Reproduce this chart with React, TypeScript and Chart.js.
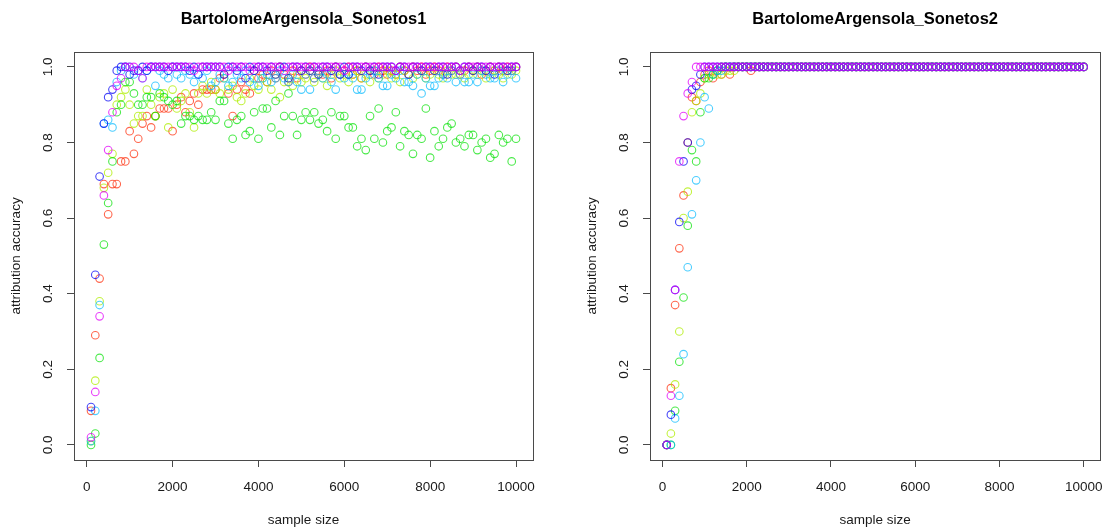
import React, { useEffect, useRef } from 'react';
import { Chart, registerables } from 'chart.js';

Chart.register(...registerables);

// ---------- data ----------
const sampleSizes = [
  100, 200, 300, 400, 500, 600, 700, 800, 900, 1000,
  1100, 1200, 1300, 1400, 1500, 1600, 1700, 1800, 1900, 2000,
  2100, 2200, 2300, 2400, 2500, 2600, 2700, 2800, 2900, 3000,
  3100, 3200, 3300, 3400, 3500, 3600, 3700, 3800, 3900, 4000,
  4100, 4200, 4300, 4400, 4500, 4600, 4700, 4800, 4900, 5000,
  5100, 5200, 5300, 5400, 5500, 5600, 5700, 5800, 5900, 6000,
  6100, 6200, 6300, 6400, 6500, 6600, 6700, 6800, 6900, 7000,
  7100, 7200, 7300, 7400, 7500, 7600, 7700, 7800, 7900, 8000,
  8100, 8200, 8300, 8400, 8500, 8600, 8700, 8800, 8900, 9000,
  9100, 9200, 9300, 9400, 9500, 9600, 9700, 9800, 9900, 10000,
];

const xTickValues = [0, 2000, 4000, 6000, 8000, 10000];
const xTickLabels = ['0', '2000', '4000', '6000', '8000', '10000'];
const yTickValues = [0, 0.2, 0.4, 0.6, 0.8, 1.0];
const yTickLabels = ['0.0', '0.2', '0.4', '0.6', '0.8', '1.0'];

const seriesColors = [
  'rgba(255,45,10,0.72)',
  'rgba(175,238,0,0.75)',
  'rgba(0,225,0,0.70)',
  'rgba(0,185,255,0.70)',
  'rgba(10,10,245,0.75)',
  'rgba(225,0,250,0.75)',
];

// ---- Sonetos1 ----
const s1Red = [
  0.09, 0.29, 0.44, 0.69, 0.61, 0.69, 0.69, 0.75, 0.75, 0.83,
  0.77, 0.81, 0.85, 0.87, 0.84, 0.87, 0.89, 0.89, 0.89, 0.83,
  0.90, 0.92, 0.88, 0.91, 0.93, 0.90, 0.94, 0.94, 0.94, 0.94,
  0.97, 0.98, 0.93, 0.87, 0.94, 0.96, 0.94, 0.93, 0.99, 0.97,
  0.98, 0.96, 0.99, 0.97, 1.00, 0.98, 0.96, 0.99, 0.97, 0.99,
  0.98, 1.00, 0.97, 0.99, 0.98, 0.99, 0.97, 1.00, 0.98, 0.99,
  1.00, 0.98, 0.99, 0.97, 1.00, 0.99, 0.98, 1.00, 0.99, 0.98,
  0.99, 0.98, 1.00, 0.99, 0.98, 1.00, 0.99, 1.00, 0.98, 0.99,
  1.00, 0.99, 0.98, 1.00, 0.99, 1.00, 0.98, 0.99, 1.00, 0.99,
  1.00, 0.98, 0.99, 1.00, 0.99, 1.00, 0.99, 1.00, 0.99, 1.00,
];
const s1Yellow = [
  0.01, 0.17, 0.38, 0.68, 0.72, 0.77, 0.90, 0.92, 0.94, 0.90,
  0.85, 0.87, 0.87, 0.94, 0.90, 0.87, 0.92, 0.93, 0.84, 0.94,
  0.89, 0.91, 0.93, 0.88, 0.84, 0.93, 0.95, 0.93, 0.96, 0.94,
  0.93, 0.97, 0.94, 0.95, 0.92, 0.91, 0.93, 0.97, 0.95, 0.94,
  0.97, 0.96, 0.94, 0.98, 0.92, 0.96, 0.97, 0.95, 0.98, 0.96,
  0.97, 0.99, 0.96, 0.98, 0.97, 0.95, 0.98, 0.99, 0.97, 0.98,
  0.96, 0.98, 0.99, 0.97, 0.98, 0.96, 0.99, 0.97, 0.98, 0.99,
  0.97, 0.98, 0.96, 0.99, 0.98, 0.97, 0.98, 0.99, 0.97, 0.98,
  0.99, 0.98, 0.97, 0.99, 0.98, 0.98, 0.99, 0.97, 0.98, 0.99,
  0.98, 0.99, 0.97, 0.98, 0.99, 0.98, 0.97, 0.99, 0.98, 0.99,
];
const s1Green = [
  0.00, 0.03, 0.23, 0.53, 0.64, 0.75, 0.88, 0.90, 0.96, 0.96,
  0.93, 0.90, 0.90, 0.92, 0.92, 0.87, 0.93, 0.92, 0.91, 0.90,
  0.91, 0.85, 0.87, 0.87, 0.86, 0.87, 0.86, 0.86, 0.88, 0.86,
  0.91, 0.91, 0.85, 0.81, 0.86, 0.87, 0.82, 0.83, 0.88, 0.81,
  0.89, 0.89, 0.84, 0.91, 0.82, 0.87, 0.93, 0.87, 0.82, 0.86,
  0.88, 0.86, 0.88, 0.85, 0.86, 0.83, 0.88, 0.81, 0.87, 0.87,
  0.84, 0.84, 0.79, 0.81, 0.78, 0.87, 0.81, 0.89, 0.80, 0.83,
  0.84, 0.88, 0.79, 0.83, 0.82, 0.77, 0.82, 0.81, 0.89, 0.76,
  0.83, 0.79, 0.81, 0.84, 0.85, 0.80, 0.81, 0.79, 0.82, 0.82,
  0.78, 0.80, 0.81, 0.76, 0.77, 0.82, 0.80, 0.81, 0.75, 0.81,
];
const s1Cyan = [
  0.01, 0.09, 0.37, 0.85, 0.86, 0.84, 0.96, 0.99, 1.00, 1.00,
  0.98, 0.99, 0.97, 0.99, 1.00, 0.95, 0.99, 0.98, 0.97, 1.00,
  0.98, 0.97, 0.99, 0.98, 0.96, 0.98, 0.97, 0.99, 0.95, 0.96,
  0.98, 0.97, 0.95, 0.96, 0.98, 0.97, 0.99, 0.96, 0.97, 0.95,
  0.97, 0.98, 0.96, 0.97, 0.99, 0.97, 0.96, 0.98, 0.96, 0.94,
  0.98, 0.94, 0.97, 0.99, 0.97, 0.98, 0.96, 0.94, 0.98, 0.97,
  0.98, 0.97, 0.94, 0.94, 0.97, 0.98, 0.99, 0.97, 0.95, 0.95,
  0.98, 0.97, 0.99, 0.96, 0.96, 0.95, 0.98, 0.93, 0.97, 0.95,
  0.95, 0.97, 0.98, 0.97, 0.99, 0.96, 0.98, 0.96, 0.96, 0.98,
  0.96, 0.99, 0.98, 0.97, 0.97, 0.99, 0.96, 0.98, 0.99, 0.97,
];
const s1Blue = [
  0.10, 0.45, 0.71, 0.85, 0.92, 0.94, 0.99, 1.00, 1.00, 0.98,
  0.99, 0.99, 1.00, 0.99, 1.00, 1.00, 1.00, 1.00, 0.99, 1.00,
  1.00, 1.00, 1.00, 0.99, 1.00, 0.98, 1.00, 1.00, 1.00, 1.00,
  1.00, 0.98, 1.00, 1.00, 0.99, 1.00, 0.97, 1.00, 0.99, 1.00,
  1.00, 0.99, 1.00, 0.98, 1.00, 1.00, 0.97, 1.00, 1.00, 0.99,
  1.00, 0.99, 1.00, 0.98, 1.00, 1.00, 0.99, 1.00, 0.98, 1.00,
  0.98, 1.00, 1.00, 0.99, 1.00, 0.99, 1.00, 0.98, 1.00, 1.00,
  1.00, 0.99, 1.00, 1.00, 0.98, 1.00, 1.00, 0.99, 1.00, 1.00,
  0.99, 1.00, 1.00, 0.98, 1.00, 1.00, 0.99, 1.00, 1.00, 0.99,
  1.00, 1.00, 0.99, 1.00, 0.98, 1.00, 1.00, 0.99, 1.00, 1.00,
];
const s1Magenta = [
  0.02, 0.14, 0.34, 0.66, 0.78, 0.88, 0.95, 0.97, 1.00, 1.00,
  1.00, 0.99, 0.97, 1.00, 1.00, 1.00, 1.00, 1.00, 1.00, 1.00,
  1.00, 1.00, 1.00, 1.00, 0.99, 1.00, 1.00, 1.00, 1.00, 1.00,
  1.00, 1.00, 0.99, 1.00, 1.00, 1.00, 1.00, 0.99, 1.00, 1.00,
  1.00, 1.00, 1.00, 1.00, 1.00, 0.99, 1.00, 1.00, 1.00, 1.00,
  1.00, 1.00, 1.00, 1.00, 1.00, 1.00, 1.00, 1.00, 1.00, 0.99,
  1.00, 1.00, 1.00, 1.00, 1.00, 1.00, 1.00, 1.00, 1.00, 1.00,
  1.00, 0.99, 1.00, 1.00, 1.00, 1.00, 1.00, 1.00, 1.00, 1.00,
  1.00, 1.00, 1.00, 1.00, 1.00, 1.00, 0.99, 1.00, 1.00, 1.00,
  1.00, 1.00, 1.00, 1.00, 1.00, 1.00, 1.00, 1.00, 1.00, 1.00,
];

// ---- Sonetos2 ----
const s2Red = [
  0.00, 0.15, 0.37, 0.52, 0.66, 0.80, 0.92, 0.91, 0.96, 0.98,
  0.99, 0.97, 0.99, 0.98, 1.00, 0.98, 1.00, 1.00, 1.00, 1.00,
  0.99, 1.00, 1.00, 1.00, 1.00, 1.00, 1.00, 1.00, 1.00, 1.00,
  1.00, 1.00, 1.00, 1.00, 1.00, 1.00, 1.00, 1.00, 1.00, 1.00,
  1.00, 1.00, 1.00, 1.00, 1.00, 1.00, 1.00, 1.00, 1.00, 1.00,
  1.00, 1.00, 1.00, 1.00, 1.00, 1.00, 1.00, 1.00, 1.00, 1.00,
  1.00, 1.00, 1.00, 1.00, 1.00, 1.00, 1.00, 1.00, 1.00, 1.00,
  1.00, 1.00, 1.00, 1.00, 1.00, 1.00, 1.00, 1.00, 1.00, 1.00,
  1.00, 1.00, 1.00, 1.00, 1.00, 1.00, 1.00, 1.00, 1.00, 1.00,
  1.00, 1.00, 1.00, 1.00, 1.00, 1.00, 1.00, 1.00, 1.00, 1.00,
];
const s2Yellow = [
  0.00, 0.03, 0.16, 0.30, 0.60, 0.67, 0.88, 0.91, 0.93, 0.97,
  0.98, 0.98, 0.98, 0.98, 0.99, 0.99, 0.99, 1.00, 1.00, 1.00,
  1.00, 1.00, 1.00, 1.00, 1.00, 1.00, 1.00, 1.00, 1.00, 1.00,
  1.00, 1.00, 1.00, 1.00, 1.00, 1.00, 1.00, 1.00, 1.00, 1.00,
  1.00, 1.00, 1.00, 1.00, 1.00, 1.00, 1.00, 1.00, 1.00, 1.00,
  1.00, 1.00, 1.00, 1.00, 1.00, 1.00, 1.00, 1.00, 1.00, 1.00,
  1.00, 1.00, 1.00, 1.00, 1.00, 1.00, 1.00, 1.00, 1.00, 1.00,
  1.00, 1.00, 1.00, 1.00, 1.00, 1.00, 1.00, 1.00, 1.00, 1.00,
  1.00, 1.00, 1.00, 1.00, 1.00, 1.00, 1.00, 1.00, 1.00, 1.00,
  1.00, 1.00, 1.00, 1.00, 1.00, 1.00, 1.00, 1.00, 1.00, 1.00,
];
const s2Green = [
  0.00, 0.00, 0.09, 0.22, 0.39, 0.58, 0.78, 0.75, 0.88, 0.97,
  0.97, 0.98, 0.99, 1.00, 1.00, 1.00, 1.00, 1.00, 1.00, 1.00,
  1.00, 1.00, 1.00, 1.00, 1.00, 1.00, 1.00, 1.00, 1.00, 1.00,
  1.00, 1.00, 1.00, 1.00, 1.00, 1.00, 1.00, 1.00, 1.00, 1.00,
  1.00, 1.00, 1.00, 1.00, 1.00, 1.00, 1.00, 1.00, 1.00, 1.00,
  1.00, 1.00, 1.00, 1.00, 1.00, 1.00, 1.00, 1.00, 1.00, 1.00,
  1.00, 1.00, 1.00, 1.00, 1.00, 1.00, 1.00, 1.00, 1.00, 1.00,
  1.00, 1.00, 1.00, 1.00, 1.00, 1.00, 1.00, 1.00, 1.00, 1.00,
  1.00, 1.00, 1.00, 1.00, 1.00, 1.00, 1.00, 1.00, 1.00, 1.00,
  1.00, 1.00, 1.00, 1.00, 1.00, 1.00, 1.00, 1.00, 1.00, 1.00,
];
const s2Cyan = [
  0.00, 0.00, 0.07, 0.13, 0.24, 0.47, 0.61, 0.70, 0.80, 0.92,
  0.89, 0.98, 0.99, 0.99, 1.00, 1.00, 1.00, 1.00, 1.00, 1.00,
  1.00, 1.00, 1.00, 1.00, 1.00, 1.00, 1.00, 1.00, 1.00, 1.00,
  1.00, 1.00, 1.00, 1.00, 1.00, 1.00, 1.00, 1.00, 1.00, 1.00,
  1.00, 1.00, 1.00, 1.00, 1.00, 1.00, 1.00, 1.00, 1.00, 1.00,
  1.00, 1.00, 1.00, 1.00, 1.00, 1.00, 1.00, 1.00, 1.00, 1.00,
  1.00, 1.00, 1.00, 1.00, 1.00, 1.00, 1.00, 1.00, 1.00, 1.00,
  1.00, 1.00, 1.00, 1.00, 1.00, 1.00, 1.00, 1.00, 1.00, 1.00,
  1.00, 1.00, 1.00, 1.00, 1.00, 1.00, 1.00, 1.00, 1.00, 1.00,
  1.00, 1.00, 1.00, 1.00, 1.00, 1.00, 1.00, 1.00, 1.00, 1.00,
];
const s2Blue = [
  0.00, 0.08, 0.41, 0.59, 0.75, 0.80, 0.94, 0.95, 0.98, 1.00,
  1.00, 1.00, 1.00, 1.00, 1.00, 1.00, 1.00, 1.00, 1.00, 1.00,
  1.00, 1.00, 1.00, 1.00, 1.00, 1.00, 1.00, 1.00, 1.00, 1.00,
  1.00, 1.00, 1.00, 1.00, 1.00, 1.00, 1.00, 1.00, 1.00, 1.00,
  1.00, 1.00, 1.00, 1.00, 1.00, 1.00, 1.00, 1.00, 1.00, 1.00,
  1.00, 1.00, 1.00, 1.00, 1.00, 1.00, 1.00, 1.00, 1.00, 1.00,
  1.00, 1.00, 1.00, 1.00, 1.00, 1.00, 1.00, 1.00, 1.00, 1.00,
  1.00, 1.00, 1.00, 1.00, 1.00, 1.00, 1.00, 1.00, 1.00, 1.00,
  1.00, 1.00, 1.00, 1.00, 1.00, 1.00, 1.00, 1.00, 1.00, 1.00,
  1.00, 1.00, 1.00, 1.00, 1.00, 1.00, 1.00, 1.00, 1.00, 1.00,
];
const s2Magenta = [
  0.00, 0.13, 0.41, 0.75, 0.87, 0.93, 0.96, 1.00, 1.00, 1.00,
  1.00, 1.00, 1.00, 1.00, 1.00, 1.00, 1.00, 1.00, 1.00, 1.00,
  1.00, 1.00, 1.00, 1.00, 1.00, 1.00, 1.00, 1.00, 1.00, 1.00,
  1.00, 1.00, 1.00, 1.00, 1.00, 1.00, 1.00, 1.00, 1.00, 1.00,
  1.00, 1.00, 1.00, 1.00, 1.00, 1.00, 1.00, 1.00, 1.00, 1.00,
  1.00, 1.00, 1.00, 1.00, 1.00, 1.00, 1.00, 1.00, 1.00, 1.00,
  1.00, 1.00, 1.00, 1.00, 1.00, 1.00, 1.00, 1.00, 1.00, 1.00,
  1.00, 1.00, 1.00, 1.00, 1.00, 1.00, 1.00, 1.00, 1.00, 1.00,
  1.00, 1.00, 1.00, 1.00, 1.00, 1.00, 1.00, 1.00, 1.00, 1.00,
  1.00, 1.00, 1.00, 1.00, 1.00, 1.00, 1.00, 1.00, 1.00, 1.00,
];

const panel1Series = [s1Red, s1Yellow, s1Green, s1Cyan, s1Blue, s1Magenta];
const panel2Series = [s2Red, s2Yellow, s2Green, s2Cyan, s2Blue, s2Magenta];

// ---------- styling ----------
const FONT = "'Liberation Sans', Arial, Helvetica, sans-serif";
const TEXT = '#1a1a1a';
const AXIS = '#4a4a4a';
const X_MIN = -296;
const X_MAX = 10396;
const Y_MIN = -0.04;
const Y_MAX = 1.04;

const rPlotPlugin = {
  id: 'rPlot',
  afterDraw(chart: any) {
    const { ctx, chartArea: a, scales } = chart;
    ctx.save();
    ctx.strokeStyle = AXIS;
    ctx.lineWidth = 1;
    const l = Math.round(a.left) + 0.5;
    const t = Math.round(a.top) + 0.5;
    const r = Math.round(a.right) + 0.5;
    const b = Math.round(a.bottom) + 0.5;
    ctx.strokeRect(l, t, r - l, b - t);
    ctx.fillStyle = TEXT;
    ctx.font = `13.5px ${FONT}`;
    ctx.textAlign = 'center';
    ctx.textBaseline = 'middle';
    yTickValues.forEach((v, i) => {
      const y = scales.y.getPixelForValue(v);
      ctx.save();
      ctx.translate(a.left - 26, y);
      ctx.rotate(-Math.PI / 2);
      ctx.fillText(yTickLabels[i], 0, 0);
      ctx.restore();
    });
    ctx.restore();
  },
};

function Panel(props: { title: string; series: number[][]; left: number; width: number; padRight: number }) {
  const ref = useRef<HTMLCanvasElement | null>(null);
  const { title, series, left, width, padRight } = props;

  useEffect(() => {
    if (!ref.current) return;
    const datasets = series.map((vals, k) => ({
      label: 'series' + (k + 1),
      data: sampleSizes.map((x, i) => ({ x, y: vals[i] })),
      borderColor: seriesColors[k],
      backgroundColor: 'rgba(0,0,0,0)',
      pointBorderColor: seriesColors[k],
      pointBackgroundColor: 'rgba(0,0,0,0)',
      pointRadius: 3.8,
      pointBorderWidth: 1.1,
      pointHoverRadius: 3.8,
      showLine: false,
      order: series.length - 1 - k,
    }));
    const chart = new Chart(ref.current, {
      type: 'scatter',
      data: { datasets },
      plugins: [rPlotPlugin],
      options: {
        responsive: false,
        animation: false,
        devicePixelRatio: 1,
        events: [],
        layout: { padding: { left: 0, right: padRight, top: 0, bottom: 0 } },
        plugins: {
          legend: { display: false },
          tooltip: { enabled: false },
          title: {
            display: true,
            text: title,
            fullSize: false,
            color: '#000',
            font: { family: FONT, size: 16.5, weight: 'bold' },
            padding: { top: 10, bottom: 22 },
          },
        },
        scales: {
          x: {
            type: 'linear',
            min: X_MIN,
            max: X_MAX,
            afterBuildTicks: (s: any) => {
              s.ticks = xTickValues.map((v) => ({ value: v }));
            },
            afterFit: (s: any) => {
              s.height = 69;
            },
            grid: { display: true, drawOnChartArea: false, drawTicks: true, tickLength: 7, color: AXIS, lineWidth: 1 },
            border: { display: false },
            ticks: {
              display: true,
              padding: 12,
              color: TEXT,
              font: { family: FONT, size: 13.5 },
              maxRotation: 0,
              minRotation: 0,
              autoSkip: false,
              callback: (_v: any, i: number) => xTickLabels[i],
            },
            title: {
              display: true,
              text: 'sample size',
              color: TEXT,
              font: { family: FONT, size: 13.5 },
              padding: { top: 0, bottom: 1 },
            },
          },
          y: {
            type: 'linear',
            min: Y_MIN,
            max: Y_MAX,
            afterBuildTicks: (s: any) => {
              s.ticks = yTickValues.map((v) => ({ value: v }));
            },
            afterFit: (s: any) => {
              s.width = 74;
            },
            grid: { display: true, drawOnChartArea: false, drawTicks: true, tickLength: 7, color: AXIS, lineWidth: 1 },
            border: { display: false },
            ticks: { display: false },
            title: {
              display: true,
              text: 'attribution accuracy',
              color: TEXT,
              font: { family: FONT, size: 13.5 },
              padding: { top: 8, bottom: 0 },
            },
          },
        },
      } as any,
    });
    return () => chart.destroy();
  }, [title, series, padRight]);

  return (
    <canvas
      ref={ref}
      width={width}
      height={529}
      style={{ position: 'absolute', left, top: 0, width, height: 529, display: 'block' }}
    />
  );
}

export default function App() {
  return (
    <div style={{ position: 'fixed', left: 0, top: 0, width: 1115, height: 529, background: '#fff' }}>
      <Panel title="BartolomeArgensola_Sonetos1" series={panel1Series} left={0} width={576} padRight={43} />
      <Panel title="BartolomeArgensola_Sonetos2" series={panel2Series} left={576} width={539} padRight={7} />
    </div>
  );
}
